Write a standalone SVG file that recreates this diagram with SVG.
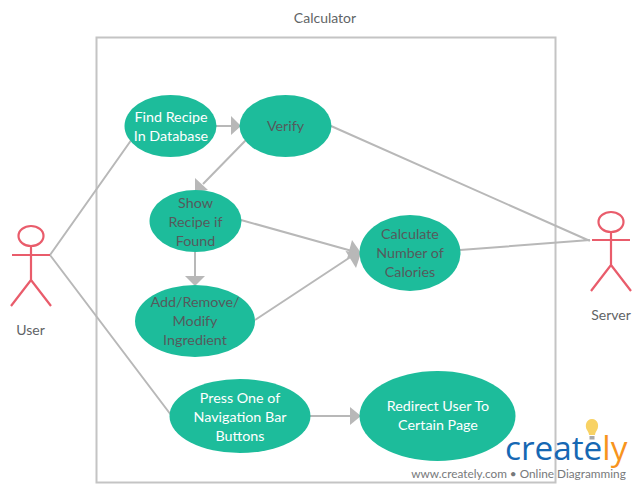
<svg xmlns="http://www.w3.org/2000/svg" width="640" height="490" viewBox="0 0 640 490">
<style>
text{font-family:Lato,"Open Sans","Liberation Sans",sans-serif;font-size:14.300px;text-anchor:middle}
.d{fill:#555a5c}.w{fill:#fff}.g{fill:#5f6466}
.e{fill:#1dbc9b}
.c{stroke:#b8b8b8;stroke-width:2;fill:none}
.a{fill:#b8b8b8}
.p{stroke:#e95c6b;stroke-width:2.2;fill:none}
</style>
<rect width="640" height="490" fill="#fff"/>
<g id="system"><rect x="96.500" y="37.500" width="459" height="445" fill="none" stroke="#c4c4c4" stroke-width="2"/>
<text x="325" y="23" class="g" style="font-size:14px">Calculator</text></g>
<g id="connectors">
<path class="c" d="M50 255L132 139M50 255L171 415M215 126H232M246 140L203 184M241 220L352 251M195 250V277M255 320L352 256M331 126L590 241M460 250L590 240M309 416H352"/>
<polygon class="a" points="241,126 231,116 231,135"/>
<polygon class="a" points="195,192 195,178 208,190"/>
<polygon class="a" points="195,286 185,276 205,276"/>
<polygon class="a" points="361,253 347,259 352,240"/>
<polygon class="a" points="361,253 356,268 345.500,251"/>
<polygon class="a" points="361,416 350,407 350,425"/>
</g>
<g id="find"><ellipse class="e" cx="170.500" cy="126" rx="46" ry="31"/><text class="w" x="171" y="122">Find Recipe</text><text class="w" x="171" y="141">In Database</text></g>
<g id="verify"><ellipse class="e" cx="285.500" cy="126" rx="46" ry="31"/><text class="d" x="285.500" y="131">Verify</text></g>
<g id="show"><ellipse class="e" cx="195.500" cy="221" rx="46" ry="31"/><text class="d" x="195.500" y="208">Show</text><text class="d" x="195.500" y="227">Recipe if</text><text class="d" x="195.500" y="246">Found</text></g>
<g id="add"><ellipse class="e" cx="195" cy="321" rx="60" ry="36"/><text class="d" x="195" y="307">Add/Remove/</text><text class="d" x="195" y="326">Modify</text><text class="d" x="195" y="345">Ingredient</text></g>
<g id="calc"><ellipse class="e" cx="410" cy="253" rx="50.500" ry="38"/><text class="d" x="410" y="239">Calculate</text><text class="d" x="410" y="258">Number of</text><text class="d" x="410" y="277">Calories</text></g>
<g id="press"><ellipse class="e" cx="240" cy="416" rx="70.500" ry="37"/><text class="w" x="240" y="403">Press One of</text><text class="w" x="240" y="422">Navigation Bar</text><text class="w" x="240" y="441">Buttons</text></g>
<g id="redirect"><ellipse class="e" cx="437.500" cy="416" rx="78" ry="45"/><text class="w" x="438" y="411">Redirect User To</text><text class="w" x="438" y="430">Certain Page</text></g>
<g id="user"><ellipse class="p" cx="31" cy="236" rx="12.500" ry="10"/><path class="p" d="M31 246V280M12 255H50M31 280L11 306M31 280L51 306"/><text class="g" x="30.500" y="335" style="font-size:14px">User</text></g>
<g id="server"><ellipse class="p" cx="611" cy="222" rx="12.500" ry="10"/><path class="p" d="M611 232V265M592 240H630M611 265L591 291M611 265L631 291"/><text class="g" x="611" y="320" style="font-size:14px">Server</text></g>
<g id="logo">
<path d="M592 419c-6 0-7.500 7-5 11 1 2 2 3 2 5h6c0-2 1-3 2-5 2.500-4 1-11-5-11z" fill="#f8d264"/><rect x="589.500" y="436" width="5" height="3.500" fill="#a9a9a9"/>
<text x="505" y="460" style="font-size:33.300px;text-anchor:start;fill:#1668b3;font-family:'Open Sans',sans-serif"><tspan>create</tspan><tspan fill="#f7941d">ly</tspan></text>
<text x="518.500" y="478" style="font-size:11.800px;fill:#77797b">www.creately.com • Online Diagramming</text>
</g>
</svg>
